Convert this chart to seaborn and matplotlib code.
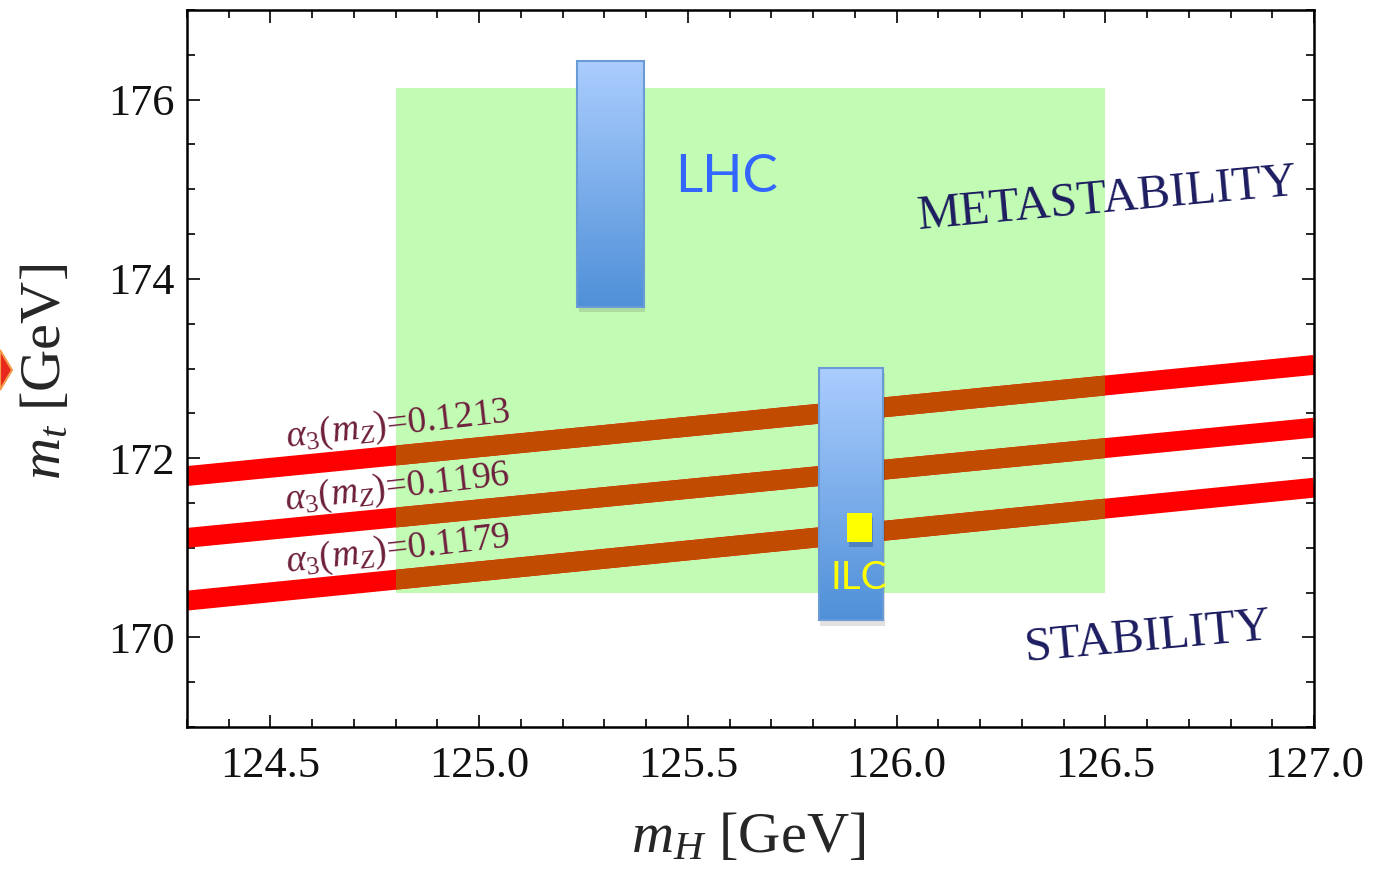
import numpy as np
import pandas as pd
import matplotlib
matplotlib.use("Agg")
import matplotlib.pyplot as plt
import seaborn as sns
from matplotlib.patches import Rectangle, Polygon
from matplotlib.colors import LinearSegmentedColormap
from matplotlib.ticker import MultipleLocator, FormatStrFormatter
import matplotlib.patheffects as pe

# ---- data -------------------------------------------------------------
mh_limits = [124.3, 127.0]
mt_limits = [169.0, 177.0]

# stability bound m_t(m_H) for three values of alpha_s(m_Z)
alpha_s = ["0.1213", "0.1196", "0.1179"]
bound_mh = [124.3, 127.0]
bound_mt_start = [171.80, 171.11, 170.41]
bound_mt_end = [173.04, 172.34, 171.67]

# allowed region (green)
region_mh = [124.8, 126.5]
region_mt = [170.50, 176.13]

# measurement bars
lhc_mh = [125.235, 125.394]
lhc_mt = [173.69, 176.43]
ilc_mh = [125.814, 125.968]
ilc_mt = [170.19, 173.01]
ilc_point_mh = [125.882, 125.940]
ilc_point_mt = [171.06, 171.39]

xticks = [124.5, 125.0, 125.5, 126.0, 126.5, 127.0]
yticks = [170, 172, 174, 176]

# ---- style ------------------------------------------------------------
sns.set_theme(style="ticks")
plt.rcParams["font.family"] = ["Liberation Serif", "DejaVu Serif"]
plt.rcParams["mathtext.fontset"] = "custom"
plt.rcParams["mathtext.rm"] = "Liberation Serif"
plt.rcParams["mathtext.it"] = "Liberation Serif:italic"
plt.rcParams["mathtext.bf"] = "Liberation Serif:bold"

fig = plt.figure(figsize=(13.78, 8.72), dpi=100)
ax = fig.add_axes([187 / 1378, 1 - 727 / 872, (1314 - 187) / 1378, (727 - 10) / 872])

# green region
green = Rectangle((region_mh[0], region_mt[0]), region_mh[1] - region_mh[0],
                  region_mt[1] - region_mt[0], fc="#c2fbb4", ec="none", zorder=1)
ax.add_patch(green)

# stability bands
rows = []
for a, y0, y1 in zip(alpha_s, bound_mt_start, bound_mt_end):
    rows.append({"alpha": a, "mH": bound_mh[0], "mt": y0})
    rows.append({"alpha": a, "mH": bound_mh[1], "mt": y1})
df = pd.DataFrame(rows)

band_lw = 14.3
sns.lineplot(data=df, x="mH", y="mt", hue="alpha", palette={a: "#ff0000" for a in alpha_s},
             linewidth=band_lw, legend=False, ax=ax, sort=False, zorder=2)
n_red = len(ax.lines)
sns.lineplot(data=df, x="mH", y="mt", hue="alpha", palette={a: "#c14b00" for a in alpha_s},
             linewidth=band_lw, legend=False, ax=ax, sort=False, zorder=2.1)
for i, ln in enumerate(ax.lines):
    ln.set_solid_capstyle("butt")
    if i >= n_red:
        ln.set_clip_path(green)

# alpha_s labels above each band
label_mt = [172.37, 171.67, 170.97]
for a, y in zip(alpha_s, label_mt):
    ax.text(124.805, y, r"$\alpha_3(m_Z)$=" + a, fontsize=27, color="#6e1f3c",
            rotation=6.5, rotation_mode="anchor", ha="center", va="center", zorder=5)

# gradient bars
bar_cmap = LinearSegmentedColormap.from_list("bar", ["#4f90d8", "#abcdfe"])
grad = np.linspace(0, 1, 256).reshape(-1, 1)


def gradient_bar(xs, ys):
    base = Rectangle((xs[0], ys[0]), xs[1] - xs[0], ys[1] - ys[0], fc="#4f90d8",
                     ec="none", zorder=3)
    base.set_path_effects([pe.SimplePatchShadow(offset=(1, -4), shadow_rgbFace="k", alpha=0.13),
                           pe.Normal()])
    ax.add_patch(base)
    im = ax.imshow(grad, extent=[xs[0], xs[1], ys[0], ys[1]], origin="lower",
                   cmap=bar_cmap, aspect="auto", zorder=3.1, interpolation="bilinear")
    im.set_clip_path(base)
    ax.add_patch(Rectangle((xs[0], ys[0]), xs[1] - xs[0], ys[1] - ys[0], fc="none",
                           ec="#6b9bd6", lw=1.5, zorder=3.2))


gradient_bar(lhc_mh, lhc_mt)
gradient_bar(ilc_mh, ilc_mt)

pt = Rectangle((ilc_point_mh[0], ilc_point_mt[0]), ilc_point_mh[1] - ilc_point_mh[0],
               ilc_point_mt[1] - ilc_point_mt[0], fc="#ffff00", ec="none", zorder=4)
pt.set_path_effects([pe.SimplePatchShadow(offset=(1, -3), shadow_rgbFace="#1a3a70", alpha=0.3),
                     pe.Normal()])
ax.add_patch(pt)

# annotations
ax.text(125.593, 175.13, "LHC", fontsize=38, color="#3366ff", family="Lato",
        ha="center", va="center", zorder=5)
ax.text(125.91, 170.66, "ILC", fontsize=28, color="#ffff00", family="Lato",
        ha="center", va="center", zorder=5)
ax.text(126.504, 174.88, "METASTABILITY", fontsize=35, color="#1c1c60",
        rotation=5.2, rotation_mode="anchor", ha="center", va="center", zorder=5)
ax.text(126.603, 169.99, "STABILITY", fontsize=35, color="#1c1c60",
        rotation=5.2, rotation_mode="anchor", ha="center", va="center", zorder=5)

# axes
ax.set_xlim(*mh_limits)
ax.set_ylim(*mt_limits)
ax.set_xticks(xticks)
ax.set_yticks(yticks)
ax.xaxis.set_major_formatter(FormatStrFormatter("%.1f"))
ax.xaxis.set_minor_locator(MultipleLocator(0.1))
ax.yaxis.set_minor_locator(MultipleLocator(0.5))
ax.tick_params(which="both", direction="in", top=True, right=True, width=1.2, color="black")
ax.tick_params(which="major", length=9, labelsize=32, labelcolor="#111111")
ax.tick_params(which="minor", length=5.5)
ax.tick_params(axis="x", which="major", pad=14)
ax.tick_params(axis="y", which="major", pad=9)
for s in ax.spines.values():
    s.set_linewidth(1.8)
    s.set_color("black")
ax.set_facecolor("white")

ax.set_xlabel(r"$m_H$ [GeV]", fontsize=42)
ax.set_ylabel(r"$m_t$ [GeV]", fontsize=42)
ax.xaxis.set_label_coords(0.498, -0.118)
ax.yaxis.set_label_coords(-0.102, 0.495)

# red pointer fragment at the left edge
W, H = 1378, 872
fig.patches.append(Polygon([(0 / W, 1 - 350 / H), (12 / W, 1 - 370 / H), (0 / W, 1 - 390 / H)],
                           closed=True, transform=fig.transFigure, fc="#e8281c",
                           ec="#f49a4a", lw=1.5, zorder=10))

fig.savefig("out.png", dpi=100, facecolor="white")
